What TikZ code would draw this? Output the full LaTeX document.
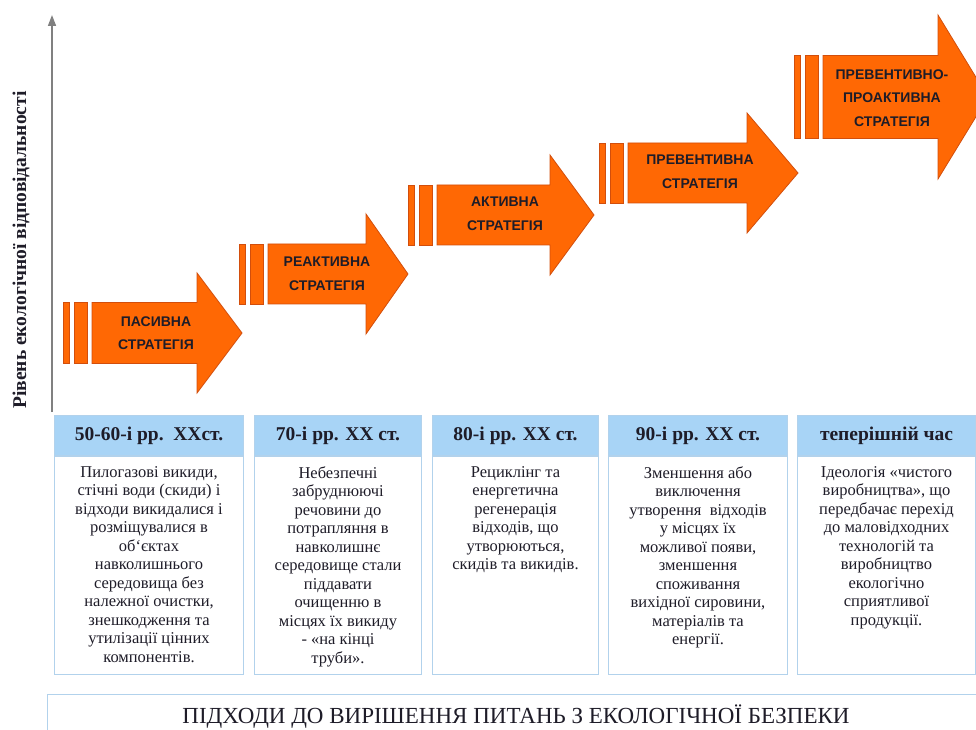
\documentclass[tikz,border=0pt]{standalone}
\usepackage{fontspec}
\setmainfont{Liberation Serif}
\setsansfont{Liberation Sans}
\usetikzlibrary{arrows.meta}

\definecolor{stratorange}{RGB}{255,104,4}
\definecolor{stratedge}{RGB}{210,78,12}
\definecolor{headblue}{RGB}{168,212,246}
\definecolor{boxedge}{RGB}{178,210,236}
\definecolor{axisgray}{RGB}{128,128,128}
\definecolor{inkdark}{RGB}{30,28,40}

\tikzset{
  stratbody/.style={fill=stratorange, draw=stratedge, line width=0.8pt},
  strattext/.style={font=\sffamily\bfseries\fontsize{14}{23.5}\selectfont, text=inkdark, align=center},
  periodhead/.style={fill=headblue, draw=boxedge, line width=1pt, inner sep=0pt,
    font=\bfseries\fontsize{19.5}{21}\selectfont, text=inkdark},
  periodbox/.style={fill=white, draw=boxedge, line width=1pt, inner sep=0pt},
  periodtext/.style={font=\fontsize{16.5}{18.5}\selectfont, text=inkdark, align=center, inner sep=0pt},
  axisline/.style={draw=axisgray, line width=1.6pt, -{Triangle[length=11pt,width=8pt]}}
}

\begin{document}
\begin{tikzpicture}[x=1pt,y=1pt]
\useasboundingbox (0,0) rectangle (976,729);
\clip (0,0) rectangle (976,729);

\coordinate (axisbot) at (52,317);
\coordinate (axistop) at (52,714);
\draw[axisline] (axisbot) -- (axistop);
\node[rotate=90, font=\bfseries\fontsize{19.5}{20}\selectfont, text=inkdark] (axislabel) at (21,479)
  {Рівень екологічної відповідальності};

\foreach \n/\x/\y/\b/\t/\w/\h/\tx/\ty/\lbl in {
  pasyvna/92/396/197/242/30.5/60/156/396/{ПАСИВНА\\СТРАТЕГІЯ},
  reaktyvna/268/455/366/408/30/60/327/455/{РЕАКТИВНА\\СТРАТЕГІЯ},
  aktyvna/437/514/550/594/30/60/505/515/{АКТИВНА\\СТРАТЕГІЯ},
  preventyvna/628/556/747/798/30/60/700/557/{ПРЕВЕНТИВНА\\СТРАТЕГІЯ},
  proaktyvna/823/632/938/988/41.5/82/892/631/{ПРЕВЕНТИВНО-\\ПРОАКТИВНА\\СТРАТЕГІЯ}} {
  \draw[stratbody] (\x-29,\y-\w) rectangle (\x-23,\y+\w);
  \draw[stratbody] (\x-18,\y-\w) rectangle (\x-5,\y+\w);
  \draw[stratbody] (\x,\y-\w) -- (\b,\y-\w) -- (\b,\y-\h) -- (\t,\y)
    -- (\b,\y+\h) -- (\b,\y+\w) -- (\x,\y+\w) -- cycle;
  \node[strattext] (\n) at (\tx,\ty) {\lbl};
}

\foreach \n/\x/\w/\head/\txt in {
  1/54/189/{50-60-і рр.\ \ XXст.}/{Пилогазові викиди,\\стічні води (скиди) і\\відходи викидалися і\\розміщувалися в\\об`єктах\\навколишнього\\середовища без\\належної очистки,\\знешкодження та\\утилізації цінних\\компонентів.},
  2/254/167/{70-і рр. XX ст.}/{Небезпечні\\забруднюючі\\речовини до\\потрапляння в\\навколишнє\\середовище стали\\піддавати\\очищенню в\\місцях їх викиду\\- «на кінці\\труби».},
  3/432/166/{80-і рр. XX ст.}/{Рециклінг та\\енергетична\\регенерація\\відходів, що\\утворюються,\\скидів та викидів.},
  4/608/179/{90-і рр. XX ст.}/{Зменшення або\\виключення\\утворення\ \ відходів\\у місцях їх\\можливої появи,\\зменшення\\споживання\\вихідної сировини,\\матеріалів та\\енергії.},
  5/797/178/{теперішній час}/{Ідеологія «чистого\\виробництва», що\\передбачає перехід\\до маловідходних\\технологій та\\виробництво\\екологічно\\сприятливої\\продукції.}} {
  \node[periodhead, minimum width=\w pt, minimum height=40pt, anchor=north west] (head\n) at (\x,314) {\head};
  \node[periodbox, minimum width=\w pt, minimum height=218pt, anchor=north] (box\n) at (head\n.south) {};
  \node[periodtext, anchor=north] (text\n) at ([yshift=-10pt]box\n.north) {\txt};
}

\node[periodbox, minimum width=930pt, minimum height=44pt, anchor=south west] (approach) at (47,-10) {};
\node[font=\fontsize{23}{24}\selectfont, text=inkdark] (approachtitle) at (516,12)
  {ПІДХОДИ ДО ВИРІШЕННЯ ПИТАНЬ З ЕКОЛОГІЧНОЇ БЕЗПЕКИ};
\end{tikzpicture}
\end{document}
